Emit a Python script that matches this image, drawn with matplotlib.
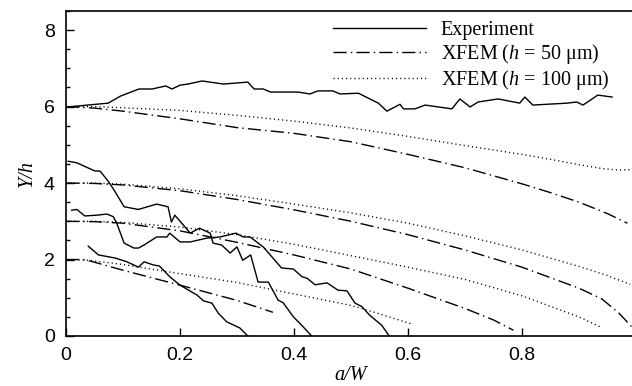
import matplotlib
matplotlib.use("Agg")
import matplotlib.pyplot as plt
from matplotlib.ticker import MultipleLocator

plt.rcParams['font.family'] = ['Liberation Sans', 'DejaVu Sans']
plt.rcParams['mathtext.fontset'] = 'custom'
plt.rcParams['mathtext.rm'] = 'Liberation Serif'
plt.rcParams['mathtext.it'] = 'Liberation Serif:italic'
plt.rcParams['lines.scale_dashes'] = False

# experiment traces (a/W, Y/h)
exp1_x = [0.002, 0.074, 0.095, 0.128, 0.151, 0.175, 0.186, 0.2, 0.214, 0.239, 0.276, 0.319, 0.33, 0.346,
          0.359, 0.407, 0.428, 0.442, 0.468, 0.481, 0.513, 0.548, 0.563, 0.586, 0.592, 0.612, 0.63, 0.677,
          0.691, 0.709, 0.723, 0.758, 0.796, 0.805, 0.819, 0.879, 0.896, 0.907, 0.933, 0.958]
exp1_y = [5.99, 6.09, 6.27, 6.46, 6.46, 6.54, 6.46, 6.56, 6.59, 6.67, 6.59, 6.64, 6.46, 6.46,
          6.38, 6.38, 6.33, 6.41, 6.41, 6.33, 6.35, 6.09, 5.88, 6.06, 5.94, 5.94, 6.04, 5.94,
          6.2, 5.99, 6.12, 6.2, 6.09, 6.25, 6.04, 6.09, 6.12, 6.04, 6.30, 6.25]

exp2_x = [0.004, 0.019, 0.05, 0.06, 0.075, 0.085, 0.102, 0.127, 0.159, 0.179, 0.185, 0.191, 0.218, 0.234,
          0.253, 0.258, 0.273, 0.288, 0.3, 0.31, 0.324, 0.337, 0.355, 0.372, 0.381, 0.399, 0.416, 0.431]
exp2_y = [4.57, 4.53, 4.32, 4.31, 4.03, 3.8, 3.38, 3.31, 3.45, 3.38, 2.98, 3.16, 2.69, 2.82,
          2.69, 2.43, 2.38, 2.17, 2.33, 1.98, 2.12, 1.41, 1.41, 0.94, 0.87, 0.5, 0.24, 0.0]

exp3_x = [0.01, 0.019, 0.033, 0.054, 0.072, 0.083, 0.089, 0.102, 0.119, 0.127, 0.137, 0.159, 0.177, 0.182,
          0.2, 0.218, 0.247, 0.27, 0.298, 0.311, 0.323, 0.346, 0.363, 0.378, 0.399, 0.414, 0.423, 0.437,
          0.458, 0.477, 0.493, 0.507, 0.519, 0.533, 0.554, 0.567]
exp3_y = [3.29, 3.31, 3.14, 3.16, 3.19, 3.12, 2.95, 2.43, 2.3, 2.3, 2.38, 2.59, 2.59, 2.69,
          2.46, 2.46, 2.56, 2.59, 2.69, 2.59, 2.59, 2.33, 2.04, 1.78, 1.75, 1.55, 1.51, 1.34,
          1.39, 1.2, 1.18, 0.86, 0.77, 0.54, 0.28, 0.0]

exp4_x = [0.039, 0.057, 0.086, 0.107, 0.127, 0.137, 0.153, 0.164, 0.182, 0.2, 0.23, 0.241, 0.256,
          0.267, 0.282, 0.305, 0.319]
exp4_y = [2.35, 2.12, 2.04, 1.94, 1.8, 1.94, 1.86, 1.83, 1.55, 1.33, 1.07, 0.92, 0.86,
          0.6, 0.37, 0.21, 0.0]

# XFEM h = 50 um
h50_6_x = [0, 0.05, 0.1, 0.2, 0.3, 0.4, 0.5, 0.6, 0.7, 0.8, 0.85, 0.9, 0.95, 0.985]
h50_6_y = [6.0, 5.96, 5.88, 5.68, 5.45, 5.3, 5.08, 4.75, 4.4, 3.98, 3.75, 3.5, 3.2, 2.95]
h50_4_x = [0, 0.05, 0.1, 0.2, 0.3, 0.4, 0.5, 0.6, 0.7, 0.8, 0.9, 0.94, 0.97, 0.995]
h50_4_y = [4.0, 3.99, 3.95, 3.8, 3.57, 3.3, 3.0, 2.65, 2.25, 1.8, 1.25, 0.97, 0.6, 0.2]
h50_3_x = [0, 0.05, 0.1, 0.2, 0.3, 0.4, 0.5, 0.6, 0.7, 0.75, 0.785]
h50_3_y = [3.0, 2.99, 2.95, 2.75, 2.45, 2.12, 1.75, 1.25, 0.72, 0.42, 0.15]
h50_2_x = [0, 0.03, 0.045, 0.1, 0.2, 0.3, 0.363]
h50_2_y = [2.0, 2.0, 1.95, 1.72, 1.33, 0.93, 0.62]

# XFEM h = 100 um
h100_6_x = [0, 0.05, 0.1, 0.2, 0.3, 0.4, 0.5, 0.6, 0.7, 0.8, 0.85, 0.9, 0.94, 0.97, 0.99]
h100_6_y = [6.0, 6.0, 5.97, 5.9, 5.77, 5.62, 5.44, 5.22, 4.98, 4.75, 4.62, 4.48, 4.38, 4.34, 4.35]
h100_4_x = [0, 0.05, 0.1, 0.2, 0.3, 0.4, 0.5, 0.6, 0.7, 0.8, 0.9, 0.95, 0.99]
h100_4_y = [4.0, 4.0, 3.97, 3.85, 3.67, 3.45, 3.22, 2.95, 2.62, 2.25, 1.82, 1.58, 1.35]
h100_3_x = [0, 0.05, 0.1, 0.2, 0.3, 0.4, 0.5, 0.6, 0.7, 0.8, 0.9, 0.937]
h100_3_y = [3.0, 3.0, 2.97, 2.85, 2.65, 2.4, 2.1, 1.8, 1.48, 1.05, 0.5, 0.24]
h100_2_x = [0, 0.04, 0.1, 0.2, 0.3, 0.4, 0.5, 0.55, 0.607]
h100_2_y = [2.0, 1.98, 1.87, 1.63, 1.4, 1.1, 0.8, 0.58, 0.31]

fig = plt.figure(figsize=(6.32, 3.86), dpi=100)
ax = fig.add_axes([66 / 632, 50 / 386, 570 / 632, 325 / 386])

lw = 1.0
dashdot = (0, (9.5, 3, 1, 3))
dotted = (0, (0.8, 2.2))

ax.plot(exp1_x, exp1_y, 'k-', lw=lw, label='Experiment')
for xs, ys in [(exp2_x, exp2_y), (exp3_x, exp3_y), (exp4_x, exp4_y)]:
    ax.plot(xs, ys, 'k-', lw=lw)

first = True
for xs, ys in [(h50_6_x, h50_6_y), (h50_4_x, h50_4_y), (h50_3_x, h50_3_y), (h50_2_x, h50_2_y)]:
    ax.plot(xs, ys, color='k', lw=lw, linestyle=dashdot,
            label=r'XFEM ($h$ = 50 μm)' if first else None)
    first = False

first = True
for xs, ys in [(h100_6_x, h100_6_y), (h100_4_x, h100_4_y), (h100_3_x, h100_3_y), (h100_2_x, h100_2_y)]:
    ax.plot(xs, ys, color='k', lw=lw, linestyle=dotted,
            label=r'XFEM ($h$ = 100 μm)' if first else None)
    first = False

ax.set_xlim(0, 1.0)
ax.set_ylim(0, 8.5)
ax.yaxis.set_major_locator(MultipleLocator(2))
ax.yaxis.set_minor_locator(MultipleLocator(0.5))
ax.set_xticks([0, 0.2, 0.4, 0.6, 0.8, 1.0], ['0', '0.2', '0.4', '0.6', '0.8', '1'])
ax.tick_params(which='both', direction='in', labelsize=14, width=1, pad=8)
ax.tick_params(which='major', length=6)
ax.tick_params(which='minor', length=3)
for s in ax.spines.values():
    s.set_linewidth(1.2)

ax.set_xlabel('a/W', family='Liberation Serif', style='italic', fontsize=14.5, labelpad=1)
ax.set_ylabel('Y/h', family='Liberation Serif', style='italic', fontsize=14.5, labelpad=5)

ax.legend(loc='upper left', bbox_to_anchor=(333 / 632, 1 - 21 / 386), bbox_transform=fig.transFigure,
          frameon=False, prop={'family': 'Liberation Serif', 'size': 14.5},
          handlelength=4.6, handletextpad=0.75, labelspacing=0.1, borderpad=0, borderaxespad=0)

fig.savefig('out.png', dpi=100)
